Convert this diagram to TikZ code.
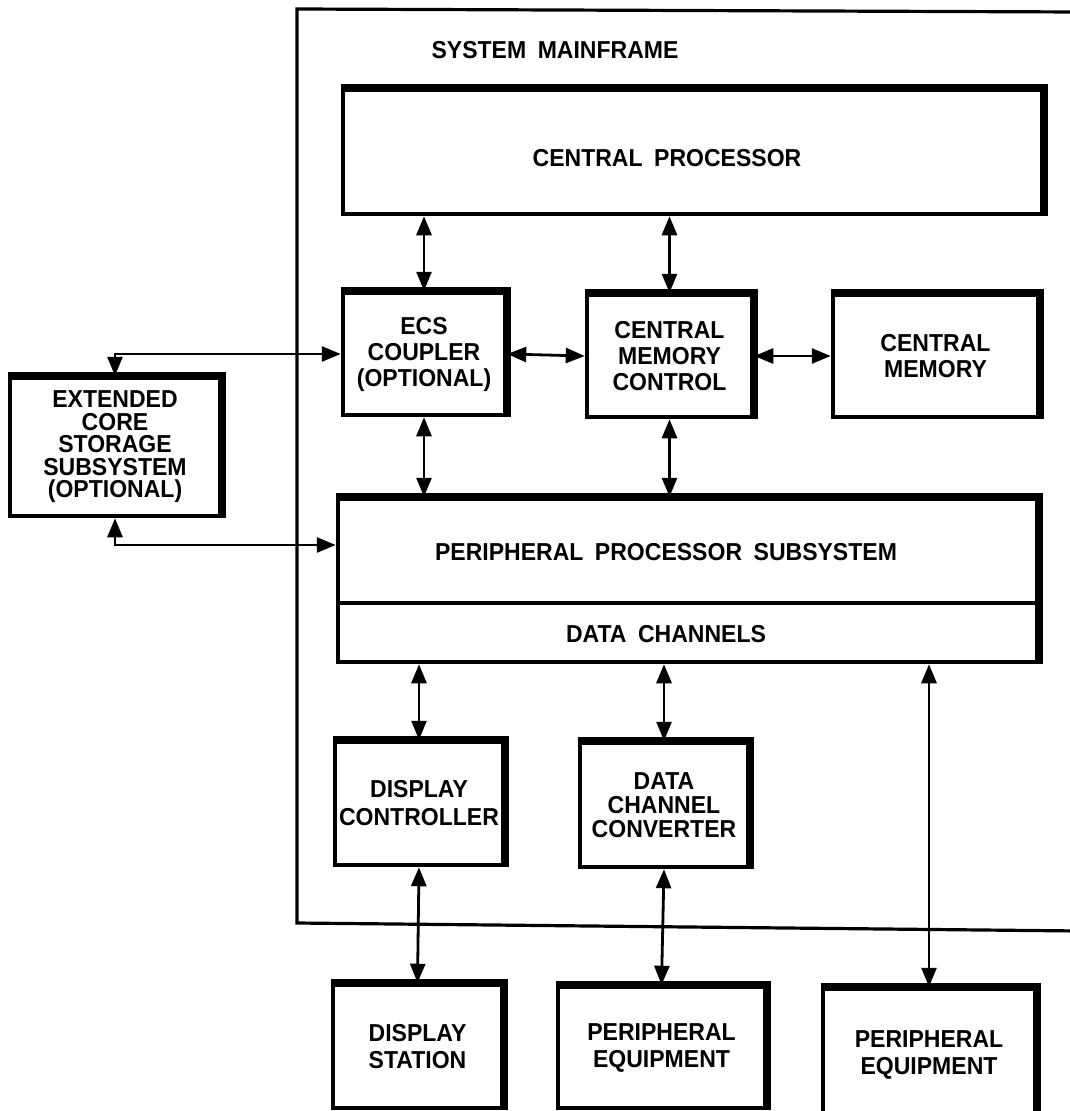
\documentclass[tikz,border=0pt]{standalone}
\usepackage{fontspec}
\newfontfamily\lettering{Liberation Sans}[FakeStretch=0.94,WordSpace=1.8]
\usetikzlibrary{arrows.meta}

\begin{document}
\begin{tikzpicture}[x=1pt,y=-1pt,
    box/.style={draw,line width=4.5pt,align=center,inner sep=0pt,font=\lettering\bfseries\fontsize{24.5}{26}\selectfont},
    lbl/.style={align=center,font=\lettering\bfseries\fontsize{24.5}{26}\selectfont},
    conn/.style={{Triangle[length=19pt,width=15pt]}-{Triangle[length=19pt,width=15pt]},line width=2.8pt},
    frame/.style={line width=3.2pt}]
    \useasboundingbox (0,0) rectangle (1070,1111);
    \clip (0,0) rectangle (1070,1111);

    % mainframe outline, runs off the right edge
    \draw [frame] (1080,12) -- (297,9) -- (297,923) -- (1080,931);
    \node [lbl] (title) at (555,50) {SYSTEM MAINFRAME};

    \node [box,minimum width=699pt,minimum height=124pt] (cp) at (692.5,152) {};
    \node [lbl] (cptext) at (667,158) {CENTRAL PROCESSOR};
    \node [box,minimum width=162pt,minimum height=122pt] (ecs) at (424,354) {ECS\\COUPLER\\(OPTIONAL)};
    \node [box,minimum width=165pt,minimum height=122pt] (cmc) at (669.5,356) {CENTRAL\\MEMORY\\CONTROL};
    \node [box,minimum width=205pt,minimum height=122pt] (cm) at (935.5,356) {CENTRAL\\MEMORY};
    \node [box,minimum width=210pt,minimum height=138pt,font=\lettering\bfseries\fontsize{24.5}{22.5}\selectfont] (ext) at (115,447)
        {EXTENDED\\CORE\\STORAGE\\SUBSYSTEM\\(OPTIONAL)};

    \node [box,minimum width=699pt,minimum height=104pt] (pps) at (687.5,551) {};
    \node [lbl] (ppstext) at (666,552) {PERIPHERAL PROCESSOR SUBSYSTEM};
    \node [box,minimum width=699pt,minimum height=59pt] (dch) at (687.5,632.5) {};
    \node [lbl] (dchtext) at (666,634) {DATA CHANNELS};

    \node [box,minimum width=168pt,minimum height=123pt,font=\lettering\bfseries\fontsize{24.5}{28}\selectfont] (dc) at (419,803.5) {DISPLAY\\CONTROLLER};
    \node [box,minimum width=168pt,minimum height=124pt,font=\lettering\bfseries\fontsize{24.5}{24}\selectfont] (dcc) at (664,805) {DATA\\CHANNEL\\CONVERTER};

    \node [box,minimum width=169pt,minimum height=123pt,font=\lettering\bfseries\fontsize{24.5}{27}\selectfont] (ds) at (417.5,1046.5) {DISPLAY\\STATION};
    \node [box,minimum width=207pt,minimum height=121pt,font=\lettering\bfseries\fontsize{24.5}{27}\selectfont] (pe1) at (661.5,1047.5) {PERIPHERAL\\EQUIPMENT};
    \node [box,minimum width=212pt,minimum height=131pt,font=\lettering\bfseries\fontsize{24.5}{27}\selectfont] (pe2) at (929,1054.5) {PERIPHERAL\\EQUIPMENT};

    % heavier top and right edges
    \foreach \n in {cp,ecs,cmc,cm,ext,pps,dc,dcc,ds,pe1,pe2}
        \draw [line width=7pt] (\n.north west) -- (\n.north east) -- (\n.south east);
    \draw [line width=7pt] (dch.north east) -- (dch.south east);

    \draw [conn] (ecs.north |- cp.south) -- (ecs.north);
    \draw [conn] (cmc.north |- cp.south) -- (cmc.north);
    \draw [conn] (ecs.east) -- (cmc.west);
    \draw [conn] (cmc.east) -- (cm.west);
    \draw [conn] (ecs.south) -- (ecs.south |- pps.north);
    \draw [conn] (cmc.south) -- (cmc.south |- pps.north);
    \draw [conn] (ext.north) |- (ecs.west);
    \draw [conn] (ext.south) |- ([yshift=6pt]pps.west);

    \draw [conn] (dc.north |- dch.south) -- (dc.north);
    \draw [conn] (dcc.north |- dch.south) -- (dcc.north);
    \draw [conn] (pe2.north |- dch.south) -- (pe2.north);
    \draw [conn] (dc.south) -- (ds.north);
    \draw [conn] (dcc.south) -- (pe1.north);
\end{tikzpicture}
\end{document}
